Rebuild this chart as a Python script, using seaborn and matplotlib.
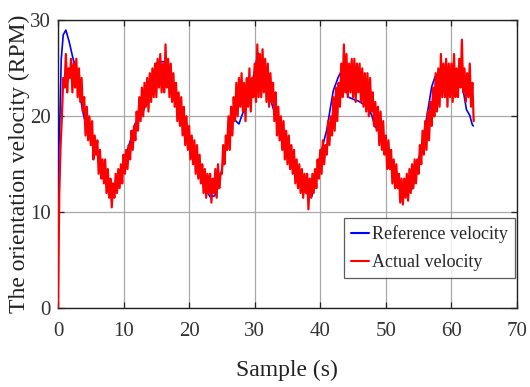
import numpy as np
import pandas as pd
import matplotlib
matplotlib.use("Agg")
import matplotlib.pyplot as plt
import seaborn as sns

# ---- data ----
ref_time = [0, 0.05, 0.1, 0.3, 0.5, 0.8, 1.2, 1.7, 2.2, 2.7, 3.2, 3.7, 4.2, 4.6, 5.3, 5.7,
            6.3, 7.0, 7.6, 8.1, 8.6, 9.1, 9.8, 10.5, 11.2, 11.8, 12.2, 12.9, 13.7, 14.4,
            14.95, 15.4, 16.2, 16.8, 17.4, 18.1, 18.8, 19.4, 20.2, 21.0, 21.7, 22.4, 23.2,
            23.9, 24.4, 25.0, 25.5, 26.0, 26.5, 27.0, 27.6, 28.0, 28.8, 29.4, 30.0, 30.5,
            31.1, 31.7, 32.3, 33.2, 34.0, 34.8, 35.6, 36.6, 37.4, 38.2, 38.7, 39.2, 39.7,
            40.4, 41.0, 41.5, 42.0, 42.75, 43.2, 43.8, 44.3, 45.3, 45.8, 46.5, 47.3, 47.9,
            48.35, 49.0, 49.5, 50.2, 50.9, 51.6, 52.2, 52.7, 53.9, 54.5, 55.0, 55.5, 56.0,
            56.5, 57.0, 57.5, 58.0, 58.7, 59.5, 60.3, 61.0, 61.6, 61.8, 62.3, 62.8, 63.2, 63.35]
ref_velocity = [0, 10, 16, 20, 26, 28.5, 29.0, 27.8, 26.3, 25.0, 23.0, 20.8, 19.2, 18.6, 18.0, 17.5,
                15.5, 13.8, 12.8, 12.3, 12.8, 13.7, 14.8, 16.3, 17.8, 19.3, 19.6, 20.3, 21.9, 24.0,
                25.5, 25.7, 25.7, 25.0, 23.0, 21.0, 19.4, 18.2, 16.6, 15.0, 13.7, 12.5, 11.6,
                11.7, 12.8, 14.5, 16.5, 18.5, 20.0, 19.6, 19.2, 20.0, 21.4, 23.0, 24.8, 26.6,
                25.5, 23.5, 22.0, 20.0, 18.0, 16.8, 16.1, 14.75, 13.0, 11.6, 11.6, 13.0, 15.1,
                17.0, 18.6, 20.7, 22.7, 24.1, 24.7, 23.1, 22.0, 21.7, 21.6, 21.3, 21.0, 20.0,
                18.9, 18.6, 17.5, 16.0, 14.5, 13.2, 12.5, 12.3, 12.3, 13.5, 15.5, 17.0, 18.9,
                21.0, 23.1, 24.1, 24.5, 24.8, 24.3, 24.5, 24.0, 24.3, 22.7, 20.7, 20.1, 19.1, 19.0]

# actual velocity, sampled every 0.2 s (5 samples per second)
act_velocity = [
    0, 12, 17, 20, 24,
    23, 26.5, 22.5, 25, 24,
    26, 22.5, 25.5, 23, 26,
    22, 25, 21.5, 24, 20.5,
    22, 18, 21, 17.5, 20,
    17, 19.5, 15.5, 18, 16,
    17.5, 14, 16.5, 13.5, 15.5,
    13, 15.5, 12, 14.5, 11.5,
    13.5, 10.5, 13, 11.5, 14,
    12, 14.5, 12.5, 15, 13,
    16, 14, 16.5, 14.5, 17,
    15.5, 18.5, 16.5, 19, 17.5,
    20.5, 18.5, 22, 19.5, 23,
    20, 23.5, 21, 24, 20.5,
    24.5, 21.5, 25, 22, 25.5,
    22, 26, 23, 26.5, 22.5,
    25.5, 22.5, 27.5, 23, 26,
    22, 25.5, 21.5, 24.5, 21,
    23.5, 19.5, 22.5, 19, 22,
    18, 21, 17, 20, 16.5,
    19, 15.5, 18, 15, 17.5,
    14, 17, 13.5, 16, 13,
    15, 12, 14.5, 11.5, 14,
    12, 14, 11, 13.5, 12,
    14.5, 11.5, 15, 12.5, 14,
    14, 17, 15, 18, 16.5,
    20, 16.5, 21, 18, 22,
    19.5, 23.5, 20, 24, 21,
    24.5, 20.5, 23.5, 19.5, 24,
    21, 25, 20.5, 24, 22,
    25.5, 21.5, 27.5, 22, 26.5,
    22, 27, 22.5, 26, 21.5,
    25.5, 21, 24.5, 21.5, 23.5,
    19.5, 22.5, 18, 21, 17.5,
    20, 16.5, 19.5, 15.5, 18.5,
    15, 18, 14.5, 17, 14,
    16.5, 13, 15.5, 12.5, 15,
    12, 14.5, 11.5, 14, 12,
    14, 10.3, 13.5, 11.5, 14,
    12, 14.5, 12.5, 15.5, 13.5,
    16.5, 14, 17.5, 15, 17,
    16, 19.5, 17, 20, 18,
    22, 18.5, 23, 19.5, 23.5,
    21, 25.5, 22, 27.5, 22.5,
    26.5, 22, 25.5, 22.5, 26,
    22, 26, 21.5, 25.5, 22.5,
    25.5, 21.5, 25, 21, 24.5,
    20.5, 24.5, 20, 24, 20.5,
    22.5, 19, 21.5, 18.5, 21,
    17, 20.5, 16.5, 19.5, 16,
    18, 14.5, 17.5, 14.5, 16.5,
    13, 15.5, 12.5, 15, 12.5,
    14, 11, 13.5, 10.8, 13.5,
    11.5, 14, 11.2, 14.5, 12,
    15, 12.5, 15.5, 13, 15.5,
    14, 17, 15, 18.5, 16,
    19.5, 16.5, 20.5, 17.5, 21.5,
    19, 23, 20, 24.5, 20.5,
    25, 21, 26.5, 22, 25.5,
    22, 26, 21, 25.5, 22,
    25.5, 21.5, 26.5, 22, 25,
    22, 26, 23, 28, 22.5,
    25, 21.5, 24.5, 22, 25.5,
    21, 23.5, 19.5,
]
act_time = np.arange(len(act_velocity)) * 0.2

x_ticks = [0, 10, 20, 30, 40, 50, 60, 70]
y_ticks = [0, 10, 20, 30]
series_names = ["Reference velocity", "Actual velocity"]
series_colors = ["#0000ff", "#ff0000"]

# ---- plotting ----
sns.set_theme(style="ticks")
plt.rcParams["font.family"] = ["Liberation Serif", "DejaVu Serif"]

fig = plt.figure(figsize=(5.30, 3.87), dpi=100)
ax = fig.add_axes([0.1094, 0.2041, 0.866, 0.743])

ref_df = pd.DataFrame({"t": ref_time, "v": ref_velocity})
act_df = pd.DataFrame({"t": act_time, "v": act_velocity})

sns.lineplot(data=ref_df, x="t", y="v", ax=ax, color=series_colors[0], lw=1.2,
             estimator=None, sort=False, label=series_names[0], zorder=3)
sns.lineplot(data=act_df, x="t", y="v", ax=ax, color=series_colors[1], lw=1.6,
             estimator=None, sort=False, label=series_names[1], zorder=4)

ax.set_xlim(0, 70)
ax.set_ylim(0, 30)
ax.set_xticks(x_ticks)
ax.set_yticks(y_ticks)
ax.grid(True, color="#a8a8a8", lw=0.9)
ax.set_axisbelow(True)

for s in ax.spines.values():
    s.set_visible(True)
    s.set_color("#222222")
    s.set_linewidth(1.0)

ax.tick_params(direction="in", top=True, right=True, length=4, width=0.9,
               labelsize=15, colors="#222222", labelcolor="#333333")
ax.tick_params(axis="x", pad=10)
ax.tick_params(axis="y", pad=5)

ax.set_xlabel("Sample (s)", fontsize=17, color="#222222", va="center")
ax.xaxis.set_label_coords(0.498, -0.218)
ax.set_ylabel("The orientation velocity (RPM)", fontsize=17, color="#222222", va="center")
ax.yaxis.set_label_coords(-0.083, 0.5)

leg = ax.legend(loc="lower right", bbox_to_anchor=(0.9956, 0.104), borderaxespad=0,
                fontsize=13, frameon=True, fancybox=False, handlelength=1.0,
                handletextpad=0.15, borderpad=0.4, labelspacing=0.6)
leg.get_frame().set_edgecolor("#333333")
leg.get_frame().set_linewidth(0.9)
for h in leg.get_lines():
    h.set_linewidth(1.5)

fig.savefig("out.png", dpi=100, facecolor="white")
